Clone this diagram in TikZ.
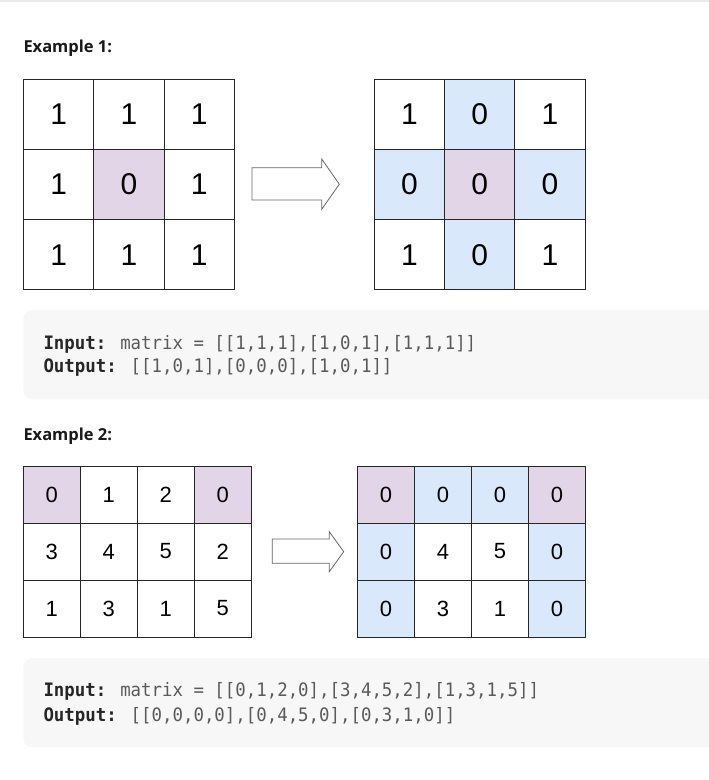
\documentclass[tikz,border=0pt]{standalone}
\usepackage{fontspec}
\setmainfont{Liberation Sans}
\newfontfamily\headfont{Open Sans}
\newfontfamily\codefont[FakeStretch=0.94]{DejaVu Sans Mono}
\definecolor{zeropink}{HTML}{E1D5E7}
\definecolor{zeroblue}{HTML}{DAE8FC}
\definecolor{codebg}{HTML}{F7F7F7}
\definecolor{codelbl}{HTML}{262626}
\definecolor{codeval}{HTML}{5A5A5A}
\newcommand{\codelbl}[1]{{\bfseries\color{codelbl}#1}}
\newcommand{\codeval}[1]{{\color{codeval}#1}}
\tikzset{
  cellA/.style={draw=black!85, line width=0.9pt, minimum size=70.3pt, inner sep=0pt, font=\fontsize{30}{30}\selectfont},
  cellB/.style={draw=black!85, line width=0.9pt, minimum size=57pt, inner sep=0pt, font=\fontsize{22}{22}\selectfont},
  heading/.style={anchor=base west, inner sep=0pt, text=black!90, font=\headfont\bfseries\fontsize{16.5}{20}\selectfont},
  codeline/.style={anchor=base west, inner sep=0pt, font=\codefont\fontsize{18.5}{22}\selectfont},
  codebox/.style={fill=codebg, rounded corners=9pt},
  blockarrow/.style={draw=black!60, fill=white, line width=0.8pt, line join=miter}
}
\begin{document}
\begin{tikzpicture}[x=1pt,y=-1pt]
\clip (0,0) rectangle (709,780);
\fill[white] (0,0) rectangle (709,780);
\fill[black!8] (0,0) rectangle (709,1.5);

\node[heading] (head1) at (23.3,52.3) {Example 1:};
\foreach \row [count=\r] in {{1/white,1/white,1/white},{1/white,0/zeropink,1/white},{1/white,1/white,1/white}}
  \foreach \v/\f [count=\c] in \row
    \node[cellA,fill=\f] (a\r\c) at ({23.5+(\c-0.5)*70.3},{79+(\r-0.5)*70.3}) {\v};
\foreach \row [count=\r] in {{1/white,0/zeroblue,1/white},{0/zeroblue,0/zeropink,0/zeroblue},{1/white,0/zeroblue,1/white}}
  \foreach \v/\f [count=\c] in \row
    \node[cellA,fill=\f] (b\r\c) at ({374.3+(\c-0.5)*70.3},{79+(\r-0.5)*70.3}) {\v};
\draw[blockarrow] (252,167.7) -- (321.7,167.7) -- (321.7,159) -- (339.3,184.2) -- (321.7,209.3) -- (321.7,200) -- (252,200) -- cycle;

\fill[codebox] (23.3,310) rectangle (730,399.3);
\node[codeline] (in1) at (43.3,349) {\codelbl{Input:} \codeval{matrix = [[1,1,1],[1,0,1],[1,1,1]]}};
\node[codeline] (out1) at (43.3,372.7) {\codelbl{Output:} \codeval{[[1,0,1],[0,0,0],[1,0,1]]}};

\node[heading] (head2) at (23.3,440) {Example 2:};
\foreach \row [count=\r] in {{0/zeropink,1/white,2/white,0/zeropink},{3/white,4/white,5/white,2/white},{1/white,3/white,1/white,5/white}}
  \foreach \v/\f [count=\c] in \row
    \node[cellB,fill=\f] (c\r\c) at ({23.3+(\c-0.5)*57},{466+(\r-0.5)*57}) {\v};
\foreach \row [count=\r] in {{0/zeropink,0/zeroblue,0/zeroblue,0/zeropink},{0/zeroblue,4/white,5/white,0/zeroblue},{0/zeroblue,3/white,1/white,0/zeroblue}}
  \foreach \v/\f [count=\c] in \row
    \node[cellB,fill=\f] (d\r\c) at ({357.5+(\c-0.5)*57},{466+(\r-0.5)*57}) {\v};
\draw[blockarrow] (272.3,539) -- (329.3,539) -- (329.3,531.7) -- (343.7,551.7) -- (329.3,571.7) -- (329.3,563.3) -- (272.3,563.3) -- cycle;

\fill[codebox] (23.3,658.3) rectangle (730,747.3);
\node[codeline] (in2) at (43.3,696.7) {\codelbl{Input:} \codeval{matrix = [[0,1,2,0],[3,4,5,2],[1,3,1,5]]}};
\node[codeline] (out2) at (43.3,721.2) {\codelbl{Output:} \codeval{[[0,0,0,0],[0,4,5,0],[0,3,1,0]]}};
\end{tikzpicture}
\end{document}
